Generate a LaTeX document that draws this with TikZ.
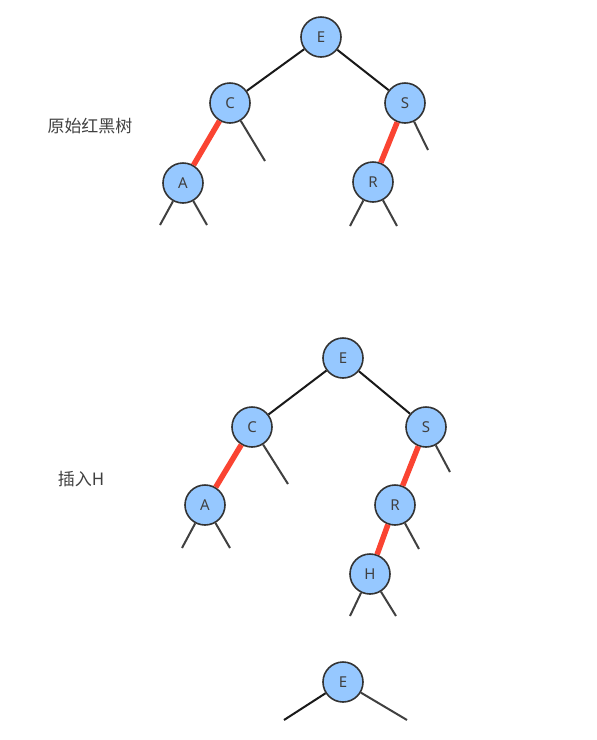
\documentclass[tikz,border=0pt]{standalone}
\usepackage{fontspec}
\setmainfont{Noto Sans}
\newfontfamily\cjk{Noto Sans CJK SC}
\usetikzlibrary{positioning}

\definecolor{nodeblue}{RGB}{150,200,255}
\definecolor{redlink}{RGB}{250,68,50}

\begin{document}
\begin{tikzpicture}[x=1pt, y=-1pt,
    rbnode/.style={circle, draw=black!80, line width=1.6pt, fill=nodeblue, text=black!75,
                   minimum size=40pt, inner sep=0pt, font=\fontsize{15}{17}\selectfont},
    blackedge/.style={draw=black!90, line width=2pt},
    rededge/.style={draw=redlink, line width=5.5pt},
    stub/.style={draw=black!75, line width=2pt},
    caption/.style={text=black!75, font=\cjk\fontsize{17}{20}\selectfont},
    ]
  \useasboundingbox (0,0) rectangle (597,740);

  % original tree
  \node[caption] (cap1) at (90,126) {原始红黑树};
  \node[rbnode] (e1) at (321,37) {E};
  \node[rbnode] (c1) at (230,103) {C};
  \node[rbnode] (s1) at (405,103) {S};
  \node[rbnode] (a1) at (183,183) {A};
  \node[rbnode] (r1) at (373,182) {R};
  \coordinate (c1r) at (265,161);
  \coordinate (s1r) at (428,150);
  \coordinate (a1l) at (160,225);
  \coordinate (a1r) at (207,225);
  \coordinate (r1l) at (350,226);
  \coordinate (r1r) at (397,226);

  \draw[blackedge] (e1) -- (c1);
  \draw[blackedge] (e1) -- (s1);
  \draw[rededge] (c1) -- (a1);
  \draw[rededge] (s1) -- (r1);
  \draw[stub] (c1) -- (c1r);
  \draw[stub] (s1) -- (s1r);
  \draw[stub] (a1) -- (a1l);
  \draw[stub] (a1) -- (a1r);
  \draw[stub] (r1) -- (r1l);
  \draw[stub] (r1) -- (r1r);

  % after inserting H
  \node[caption] (cap2) at (81,479) {插入H};
  \node[rbnode] (e2) at (343,358) {E};
  \node[rbnode] (c2) at (252,427) {C};
  \node[rbnode] (s2) at (426,427) {S};
  \node[rbnode] (a2) at (205,505) {A};
  \node[rbnode] (r2) at (395,505) {R};
  \node[rbnode] (h2) at (370,574) {H};
  \coordinate (c2r) at (288,484);
  \coordinate (s2r) at (450,472);
  \coordinate (a2l) at (182,548);
  \coordinate (a2r) at (230,548);
  \coordinate (r2r) at (419,549);
  \coordinate (h2l) at (350,616);
  \coordinate (h2r) at (396,616);

  \draw[blackedge] (e2) -- (c2);
  \draw[blackedge] (e2) -- (s2);
  \draw[rededge] (c2) -- (a2);
  \draw[rededge] (s2) -- (r2);
  \draw[rededge] (r2) -- (h2);
  \draw[stub] (c2) -- (c2r);
  \draw[stub] (s2) -- (s2r);
  \draw[stub] (a2) -- (a2l);
  \draw[stub] (a2) -- (a2r);
  \draw[stub] (r2) -- (r2r);
  \draw[stub] (h2) -- (h2l);
  \draw[stub] (h2) -- (h2r);

  % next step, cut off at the bottom
  \node[rbnode] (e3) at (343,682) {E};
  \coordinate (e3l) at (284,720);
  \coordinate (e3r) at (407,720);
  \draw[blackedge] (e3) -- (e3l);
  \draw[stub] (e3) -- (e3r);
\end{tikzpicture}
\end{document}
